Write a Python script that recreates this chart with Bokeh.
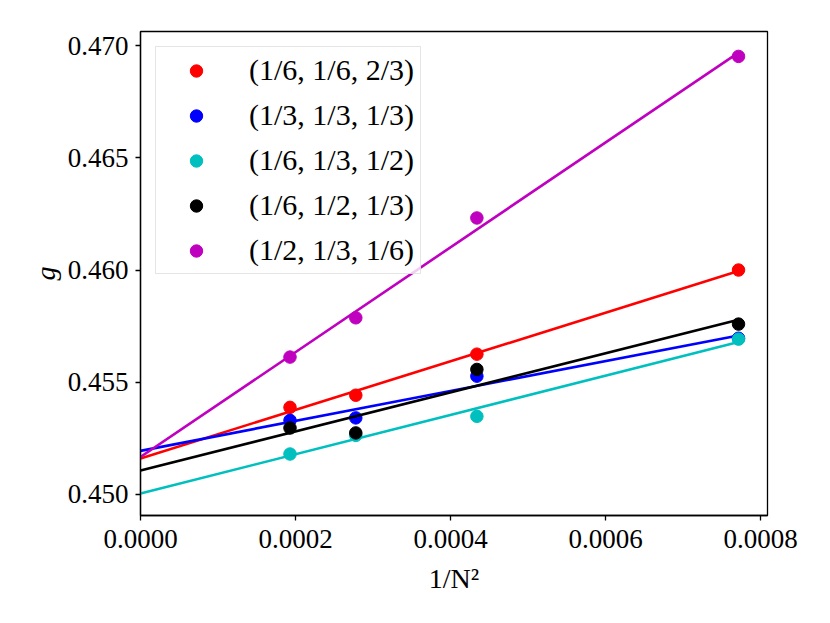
import numpy as np
from bokeh.plotting import figure
from bokeh.models import FixedTicker, PrintfTickFormatter, Range1d
from bokeh.embed import file_html
from bokeh.resources import INLINE

# System sizes N; x = 1/N^2
N_values = [72, 60, 48, 36]
x_vals = [1.0 / n ** 2 for n in N_values]

labels = ["(1/6, 1/6, 2/3)", "(1/3, 1/3, 1/3)", "(1/6, 1/3, 1/2)", "(1/6, 1/2, 1/3)", "(1/2, 1/3, 1/6)"]
colors = ["#ff0000", "#0000ff", "#00bfbf", "#000000", "#bf00bf"]

g_red = [0.45388, 0.45442, 0.45625, 0.46000]
g_blue = [0.45330, 0.45341, 0.45527, 0.45696]
g_cyan = [0.45180, 0.45263, 0.45348, 0.45692]
g_black = [0.45296, 0.45274, 0.45557, 0.45759]
g_magenta = [0.45612, 0.45787, 0.46232, 0.46952]
series = [g_red, g_blue, g_cyan, g_black, g_magenta]

x_ticks = [0.0, 0.0002, 0.0004, 0.0006, 0.0008]
y_ticks = [0.450, 0.455, 0.460, 0.465, 0.470]

FONT = "Liberation Serif"

p = figure(width=810, height=600, output_backend="svg", toolbar_location=None,
           x_range=Range1d(0.0, 0.000809), y_range=Range1d(0.44906, 0.47063),
           min_border_left=140, min_border_right=43, min_border_top=31, min_border_bottom=85)
p.grid.visible = False
p.outline_line_color = "black"
p.outline_line_width = 1.3
p.background_fill_color = "white"
p.border_fill_color = "white"

for ys, col, lab in zip(series, colors, labels):
    slope, intercept = np.polyfit(x_vals, ys, 1)
    xl = [0.0, max(x_vals)]
    yl = [intercept + slope * xv for xv in xl]
    p.scatter(x_vals, ys, size=12.5, color=col, legend_label=lab)
    p.line(xl, yl, line_color=col, line_width=2.6)

for ax in (p.xaxis[0], p.yaxis[0]):
    ax.major_tick_out = 5
    ax.major_tick_in = 0
    ax.minor_tick_out = 0
    ax.minor_tick_in = 0
    ax.axis_line_width = 1.3
    ax.major_tick_line_width = 1.3
    ax.major_label_text_font = FONT
    ax.major_label_text_font_size = "27px"
    ax.major_label_text_color = "black"
    ax.axis_label_text_font = FONT
    ax.axis_label_text_font_size = "28px"
    ax.axis_label_text_color = "black"

p.xaxis.ticker = FixedTicker(ticks=x_ticks)
p.yaxis.ticker = FixedTicker(ticks=y_ticks)
p.xaxis.formatter = PrintfTickFormatter(format="%.4f")
p.yaxis.formatter = PrintfTickFormatter(format="%.3f")
p.xaxis.axis_label = "1/N²"
p.xaxis.axis_label_text_font_style = "normal"
p.xaxis.axis_label_standoff = 12
p.xaxis.major_label_standoff = 9
p.yaxis.axis_label = "g"
p.yaxis.axis_label_text_font_style = "italic"
p.yaxis.axis_label_standoff = 4
p.yaxis.major_label_standoff = 7

leg = p.legend[0]
leg.location = "top_left"
leg.margin = 15
leg.padding = 6
leg.spacing = 11
leg.label_height = 31
leg.glyph_height = 31
leg.glyph_width = 68
leg.label_standoff = 19
leg.label_text_font = FONT
leg.label_text_font_size = "30px"
leg.label_text_color = "black"
leg.border_line_color = "#cccccc"
leg.border_line_width = 1.3
leg.background_fill_alpha = 0.8

open("out.html", "w").write(file_html(p, INLINE))
